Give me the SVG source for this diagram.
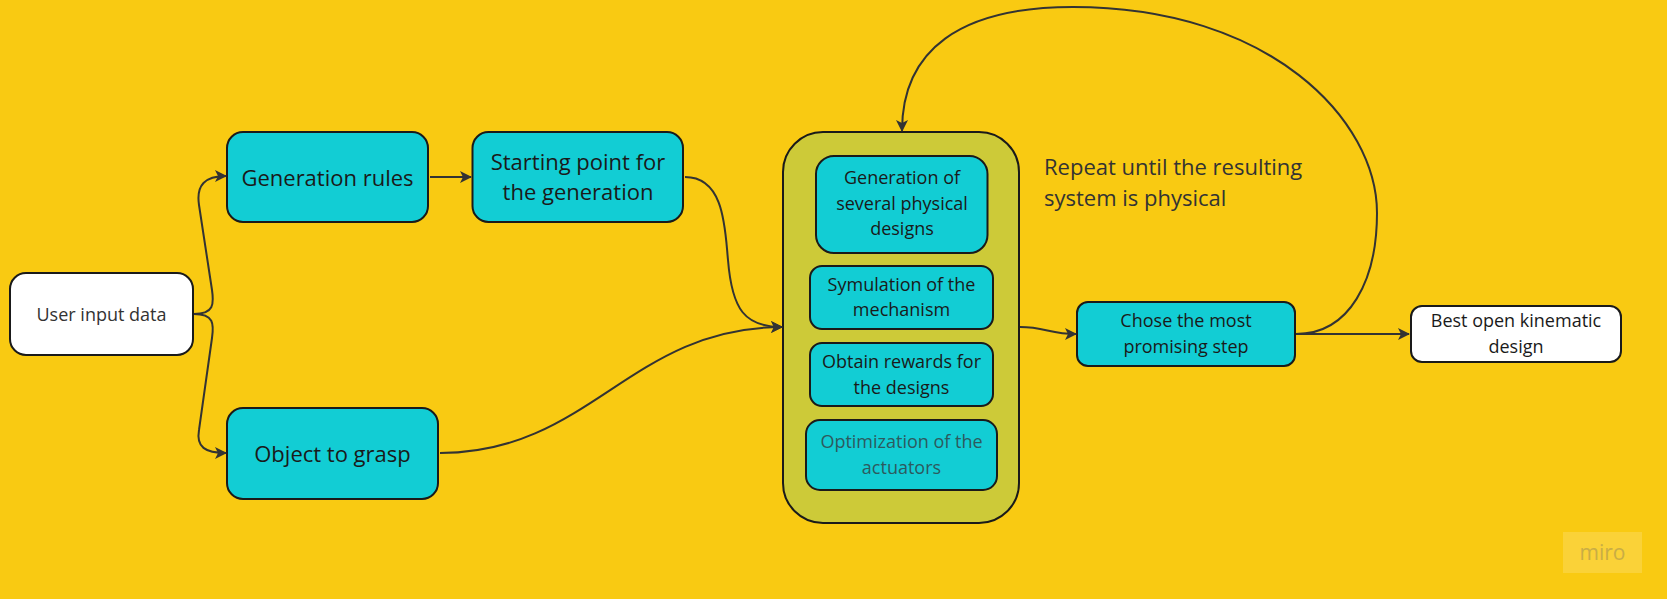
<svg xmlns="http://www.w3.org/2000/svg" width="1667" height="599" viewBox="0 0 1667 599">
<style>
text{font-family:"Open Sans","Noto Sans","Liberation Sans",sans-serif;fill:#1a1a1a;text-anchor:middle;dominant-baseline:central}
.big{font-size:22px}
.sm{font-size:18px}
.left{text-anchor:start;fill:#333333}
.grey{fill:#333333}
.muted{fill:#2d5a5e}
.cy{fill:#12cdd4;stroke:#1a1a1a;stroke-width:2}
.wh{fill:#ffffff;stroke:#1a1a1a;stroke-width:2}
.cont{fill:#cdca38;stroke:#1a1a1a;stroke-width:2}
.conn path{fill:none;stroke:#333333;stroke-width:2;marker-end:url(#ah)}
</style>
<defs>
<marker id="ah" viewBox="0 0 12 12" refX="11" refY="6" markerWidth="12" markerHeight="12" markerUnits="userSpaceOnUse" orient="auto">
<path d="M0,0 L12,6 L0,12 L3,6 Z" fill="#333333"/>
</marker>
</defs>
<rect width="1667" height="599" fill="#f9ca12"/>

<g id="n-user"><rect class="wh" x="10" y="273" width="183" height="82" rx="16"/><text class="sm grey" x="101.5" y="314">User input data</text></g>
<g id="n-rules"><rect class="cy" x="227" y="132" width="201" height="90" rx="16"/><text class="big" x="327.5" y="177">Generation rules</text></g>
<g id="n-start"><rect class="cy" x="472.5" y="132" width="210.5" height="90" rx="16"/><text class="big" x="578" y="161">Starting point for</text><text class="big" x="578" y="191">the generation</text></g>
<g id="n-object"><rect class="cy" x="227" y="408" width="211" height="91" rx="16"/><text class="big" x="332.5" y="453">Object to grasp</text></g>

<g id="n-container"><rect class="cont" x="783" y="132" width="236" height="391" rx="40"/></g>
<g id="n-gen"><rect class="cy" x="816" y="156" width="171.5" height="97" rx="18"/><text class="sm" x="902" y="177">Generation of</text><text class="sm" x="902" y="203">several physical</text><text class="sm" x="902" y="228">designs</text></g>
<g id="n-sym"><rect class="cy" x="810" y="266" width="183" height="63" rx="12"/><text class="sm" x="901.5" y="284">Symulation of the</text><text class="sm" x="901.5" y="309">mechanism</text></g>
<g id="n-rew"><rect class="cy" x="810" y="343" width="183" height="63" rx="12"/><text class="sm" x="901.5" y="361">Obtain rewards for</text><text class="sm" x="901.5" y="387">the designs</text></g>
<g id="n-opt"><rect class="cy" x="806" y="420" width="191" height="70" rx="14"/><text class="sm muted" x="901.5" y="441">Optimization of the</text><text class="sm muted" x="901.5" y="467">actuators</text></g>

<g id="n-repeat"><text class="big left" x="1044" y="166">Repeat until the resulting</text><text class="big left" x="1044" y="197">system is physical</text></g>

<g id="n-chose"><rect class="cy" x="1077" y="302" width="218" height="64" rx="11"/><text class="sm" x="1186" y="320">Chose the most</text><text class="sm" x="1186" y="346">promising step</text></g>
<g id="n-best"><rect class="wh" x="1411" y="306" width="210" height="56" rx="11"/><text class="sm" x="1516" y="320">Best open kinematic</text><text class="sm" x="1516" y="346">design</text></g>

<g id="connectors" class="conn">
<path d="M194 314 C 214 314 214 304 212 290 L 199 205 C 196 185 205 176 226 176"/>
<path d="M194 314 C 214 314 214 324 212 338 L 199 430 C 196 447 205 453 226 453"/>
<path d="M430 177 L 471 177"/>
<path d="M685 177 C 725 177 725 230 728 260 C 732 310 745 327 782 327"/>
<path d="M440 453 C 590 453 630 327 782 327"/>
<path d="M1020 327 C 1045 327 1050 334 1076 334"/>
<path d="M1296 334 L 1409 334"/>
<path d="M1296 334 C 1350 334 1377 280 1377 213 C 1377 120 1270 7 1073 7 C 960 7 902 50 902 131"/>
</g>

<g id="watermark"><rect x="1563" y="532" width="79" height="41" fill="#fbd548" opacity="0.7"/><text x="1602.5" y="552" style="font-size:21px;fill:#c9ad45">miro</text></g>
</svg>
